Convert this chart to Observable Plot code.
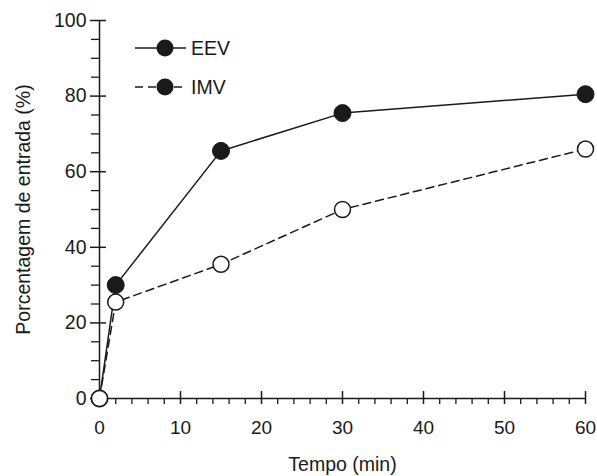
<!DOCTYPE html>
<html><head><meta charset="utf-8">
<script src="https://cdn.jsdelivr.net/npm/d3@7"></script>
<script src="https://cdn.jsdelivr.net/npm/@observablehq/plot@0.6"></script>
<style>
body{margin:0;background:#fff}
#wrap{position:relative;width:597px;height:476px;font-family:"Liberation Sans",Arial,sans-serif}
#legend{position:absolute;left:0;top:0}
</style>
</head><body><div id="wrap"></div>
<script>
const tempo = [0, 2, 15, 30, 60];
const eev = [0, 30, 65.5, 75.5, 80.5];
const imv = [0, 25.5, 35.5, 50, 66];
const seriesNames = ["EEV", "IMV"];
const xMajor = [0, 10, 20, 30, 40, 50, 60];
const xMinor = [2,4,6,8,12,14,16,18,22,24,26,28,32,34,36,38,42,44,46,48,52,54,56,58];
const yMajor = [0, 20, 40, 60, 80, 100];
const yMinor = [5,10,15,25,30,35,45,50,55,65,70,75,85,90,95];
const xLabel = "Tempo (min)";
const yLabel = "Porcentagem de entrada (%)";

const eevData = tempo.map((t, i) => ({t, v: eev[i]}));
const imvData = tempo.map((t, i) => ({t, v: imv[i]}));

const FONT = '"Liberation Sans", Arial, sans-serif';
const chart = Plot.plot({
  width: 597, height: 476,
  marginLeft: 99, marginRight: 12, marginTop: 20, marginBottom: 78,
  style: {fontFamily: FONT, fontSize: "19px", color: "#1a1a1a", background: "white"},
  x: {domain: [0, 60]},
  y: {domain: [0, 100]},
  marks: [
    // axis lines
    Plot.ruleY([0], {stroke: "#1a1a1a", strokeWidth: 1.5}),
    Plot.ruleX([0], {stroke: "#1a1a1a", strokeWidth: 1.5}),
    // x ticks
    Plot.axisX({ticks: xMajor, tickSize: 13, dy: -7, text: null, label: null, strokeWidth: 1.5, stroke: "#1a1a1a"}),
    Plot.axisX({ticks: xMinor, tickSize: 6, text: null, label: null, strokeWidth: 1.3, stroke: "#1a1a1a"}),
    Plot.axisX({ticks: xMajor, tickSize: 0, tickPadding: 22, label: null, fontSize: 19, fill: "#1a1a1a"}),
    // y ticks
    Plot.axisY({ticks: yMajor, tickSize: 16, dx: 7, text: null, label: null, strokeWidth: 1.5, stroke: "#1a1a1a"}),
    Plot.axisY({ticks: yMinor, tickSize: 8, text: null, label: null, strokeWidth: 1.3, stroke: "#1a1a1a"}),
    Plot.axisY({ticks: yMajor, tickSize: 0, tickPadding: 13, label: null, fontSize: 19.5, fill: "#1a1a1a"}),
    // titles
    Plot.text([xLabel], {text: d => d, frameAnchor: "bottom", textAnchor: "middle", lineAnchor: "bottom", dy: 72, fontSize: 19.5, fill: "#1a1a1a"}),
    Plot.text([yLabel], {text: d => d, frameAnchor: "left", textAnchor: "middle", lineAnchor: "bottom", rotate: -90, dx: -70, fontSize: 19.5, fill: "#1a1a1a"}),
    // series
    Plot.line(imvData, {x: "t", y: "v", stroke: "#1a1a1a", strokeWidth: 1.5, strokeDasharray: "8,5"}),
    Plot.line(eevData, {x: "t", y: "v", stroke: "#1a1a1a", strokeWidth: 1.5}),
    Plot.dot(eevData, {x: "t", y: "v", r: 8.5, fill: "#1a1a1a", stroke: "#1a1a1a", strokeWidth: 1}),
    Plot.dot(imvData, {x: "t", y: "v", r: 8, fill: "white", stroke: "#1a1a1a", strokeWidth: 1.5})
  ]
});
const wrap = document.getElementById("wrap");
wrap.appendChild(chart);

// legend overlay
const lg = d3.select(wrap).append("svg").attr("id", "legend").attr("width", 260).attr("height", 110);
const rows = [{name: seriesNames[0], dash: null, y: 48}, {name: seriesNames[1], dash: "8,5", y: 87}];
const g = lg.selectAll("g").data(rows).join("g").attr("transform", d => `translate(0,${d.y})`);
g.append("line").attr("x1", 135).attr("x2", 186).attr("stroke", "#1a1a1a").attr("stroke-width", 1.5)
  .attr("stroke-dasharray", d => d.dash);
g.append("circle").attr("cx", 165).attr("r", 8.5).attr("fill", "#1a1a1a");
g.append("text").attr("x", 191).attr("dy", "0.35em").attr("font-family", FONT).attr("font-size", 19.5)
  .attr("fill", "#1a1a1a").text(d => d.name);
</script>
</body></html>
